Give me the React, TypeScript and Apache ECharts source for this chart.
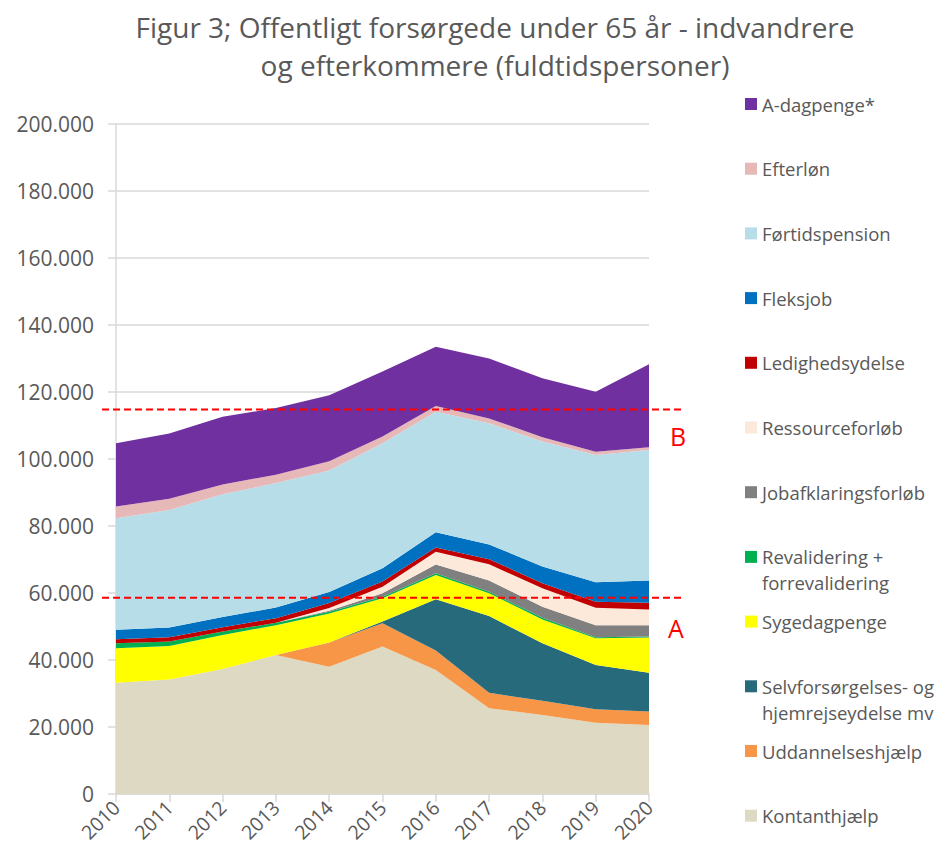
import React, { useEffect, useRef } from 'react';
import * as echarts from 'echarts';

const years = ['2010', '2011', '2012', '2013', '2014', '2015', '2016', '2017', '2018', '2019', '2020'];

const kontanthjaelp = [33200, 34200, 37300, 41500, 38000, 44000, 37000, 25600, 23600, 21300, 20600];
const uddannelseshjaelp = [0, 0, 0, 0, 7200, 7000, 5800, 4600, 4200, 4000, 4000];
const selvforsoergelse = [0, 0, 0, 0, 0, 500, 15300, 22900, 17200, 13200, 11600];
const sygedagpenge = [10300, 10000, 10200, 8900, 8700, 6900, 7300, 6800, 7100, 8000, 10500];
const revalidering = [1500, 1300, 1000, 700, 500, 500, 500, 500, 500, 300, 300];
const jobafklaring = [0, 0, 0, 0, 300, 1000, 2600, 3300, 3300, 3600, 3400];
const ressourceforloeb = [0, 0, 0, 0, 800, 2000, 3800, 4900, 5500, 5200, 4700];
const ledighedsydelse = [1200, 1300, 1300, 1400, 1500, 1500, 1300, 1500, 1500, 1800, 2000];
const fleksjob = [2800, 2900, 3000, 3200, 3300, 4000, 4500, 4400, 5000, 5800, 6600];
const foertidspension = [33300, 35100, 36700, 37100, 36300, 37300, 36000, 36200, 37300, 38000, 39000];
const efterloen = [3500, 3300, 2900, 2500, 2700, 2000, 1700, 1400, 1300, 1000, 800];
const adagpenge = [18900, 19500, 20200, 19900, 19700, 19400, 17700, 17900, 17600, 17900, 24800];

const levelA = 58600;
const levelB = 114800;

const seriesNames = [
  'Kontanthjælp',
  'Uddannelseshjælp',
  'Selvforsørgelses- og hjemrejseydelse mv',
  'Sygedagpenge',
  'Revalidering + forrevalidering',
  'Jobafklaringsforløb',
  'Ressourceforløb',
  'Ledighedsydelse',
  'Fleksjob',
  'Førtidspension',
  'Efterløn',
  'A-dagpenge*',
];
const legendLabels = [
  'Kontanthjælp',
  'Uddannelseshjælp',
  'Selvforsørgelses- og\nhjemrejseydelse mv',
  'Sygedagpenge',
  'Revalidering +\nforrevalidering',
  'Jobafklaringsforløb',
  'Ressourceforløb',
  'Ledighedsydelse',
  'Fleksjob',
  'Førtidspension',
  'Efterløn',
  'A-dagpenge*',
];
const seriesData = [
  kontanthjaelp, uddannelseshjaelp, selvforsoergelse, sygedagpenge, revalidering,
  jobafklaring, ressourceforloeb, ledighedsydelse, fleksjob, foertidspension, efterloen, adagpenge,
];
const colors = [
  '#DDD9C3', '#F79646', '#276A7C', '#FFFF00', '#00B050', '#808080',
  '#FDE9D9', '#C00000', '#0070C0', '#B7DEE8', '#E6B9B8', '#7030A0',
];

const FONT = '"Open Sans", Lato, sans-serif';
const GREY = '#595959';

export default function App() {
  const ref = useRef<HTMLDivElement>(null);
  useEffect(() => {
    document.body.style.margin = '0';
    const chart = echarts.init(ref.current!, null, { renderer: 'svg' });
    chart.setOption({
      animation: false,
      textStyle: { fontFamily: FONT },
      title: {
        text: 'Figur 3; Offentligt forsørgede under 65 år - indvandrere\nog efterkommere (fuldtidspersoner)',
        left: 490,
        top: 3,
        textAlign: 'center',
        textStyle: { fontSize: 28, lineHeight: 38, fontWeight: 'normal', color: GREY, fontFamily: FONT },
      },
      grid: { left: 116, right: 286, top: 124, bottom: 65 },
      xAxis: {
        type: 'category',
        data: years,
        boundaryGap: false,
        axisLine: { lineStyle: { color: '#D9D9D9', width: 1.5 } },
        axisTick: { show: true, length: 8, alignWithLabel: true, lineStyle: { color: '#D9D9D9', width: 1.5 } },
        axisLabel: { rotate: 45, fontSize: 19.5, color: GREY, margin: 10, fontFamily: FONT },
      },
      yAxis: {
        type: 'value',
        min: 0,
        max: 200000,
        interval: 20000,
        axisLine: { show: true, lineStyle: { color: '#D9D9D9', width: 1.5 } },
        axisTick: { show: true, length: 8, lineStyle: { color: '#D9D9D9', width: 1.5 } },
        splitLine: { lineStyle: { color: '#D9D9D9', width: 1.5 } },
        axisLabel: {
          fontSize: 21,
          color: GREY,
          margin: 22,
          fontFamily: FONT,
          formatter: (v: number) => (v === 0 ? '0' : v.toLocaleString('de-DE')),
        },
      },
      series: seriesNames.map((name, i) => ({
        name,
        type: 'line',
        stack: 'total',
        data: seriesData[i],
        symbol: 'none',
        lineStyle: { width: 0 },
        areaStyle: { color: colors[i], opacity: 1 },
        itemStyle: { color: colors[i] },
      })),
    });

    const yA = chart.convertToPixel({ yAxisIndex: 0 }, levelA) as number;
    const yB = chart.convertToPixel({ yAxisIndex: 0 }, levelB) as number;
    const graphics: any[] = [];
    [yA, yB].forEach((y) => {
      graphics.push({
        type: 'line',
        shape: { x1: 102, y1: y, x2: 684, y2: y },
        style: { stroke: '#FF0000', lineWidth: 2, lineDash: [7, 4] },
        z: 100,
      });
    });
    graphics.push({
      type: 'text', x: 676, y: yA + 30,
      style: { text: 'A', fill: '#FF0000', font: `25px ${FONT}`, textAlign: 'center', textVerticalAlign: 'middle' },
      z: 100,
    });
    graphics.push({
      type: 'text', x: 678, y: yB + 27,
      style: { text: 'B', fill: '#FF0000', font: `25px ${FONT}`, textAlign: 'center', textVerticalAlign: 'middle' },
      z: 100,
    });
    const n = seriesNames.length;
    for (let k = 0; k < n; k++) {
      const i = n - 1 - k;
      const cy = 104 + k * 64.7;
      graphics.push({
        type: 'rect',
        shape: { x: 745, y: cy - 6, width: 12, height: 12 },
        style: { fill: colors[i] },
      });
      graphics.push({
        type: 'text',
        x: 762,
        y: cy - 13,
        style: { text: legendLabels[i], fill: GREY, font: `18.5px ${FONT}`, lineHeight: 26, textVerticalAlign: 'top' },
      });
    }
    chart.setOption({ graphic: graphics });
    return () => chart.dispose();
  }, []);
  return <div ref={ref} style={{ width: 935, height: 859 }} />;
}
